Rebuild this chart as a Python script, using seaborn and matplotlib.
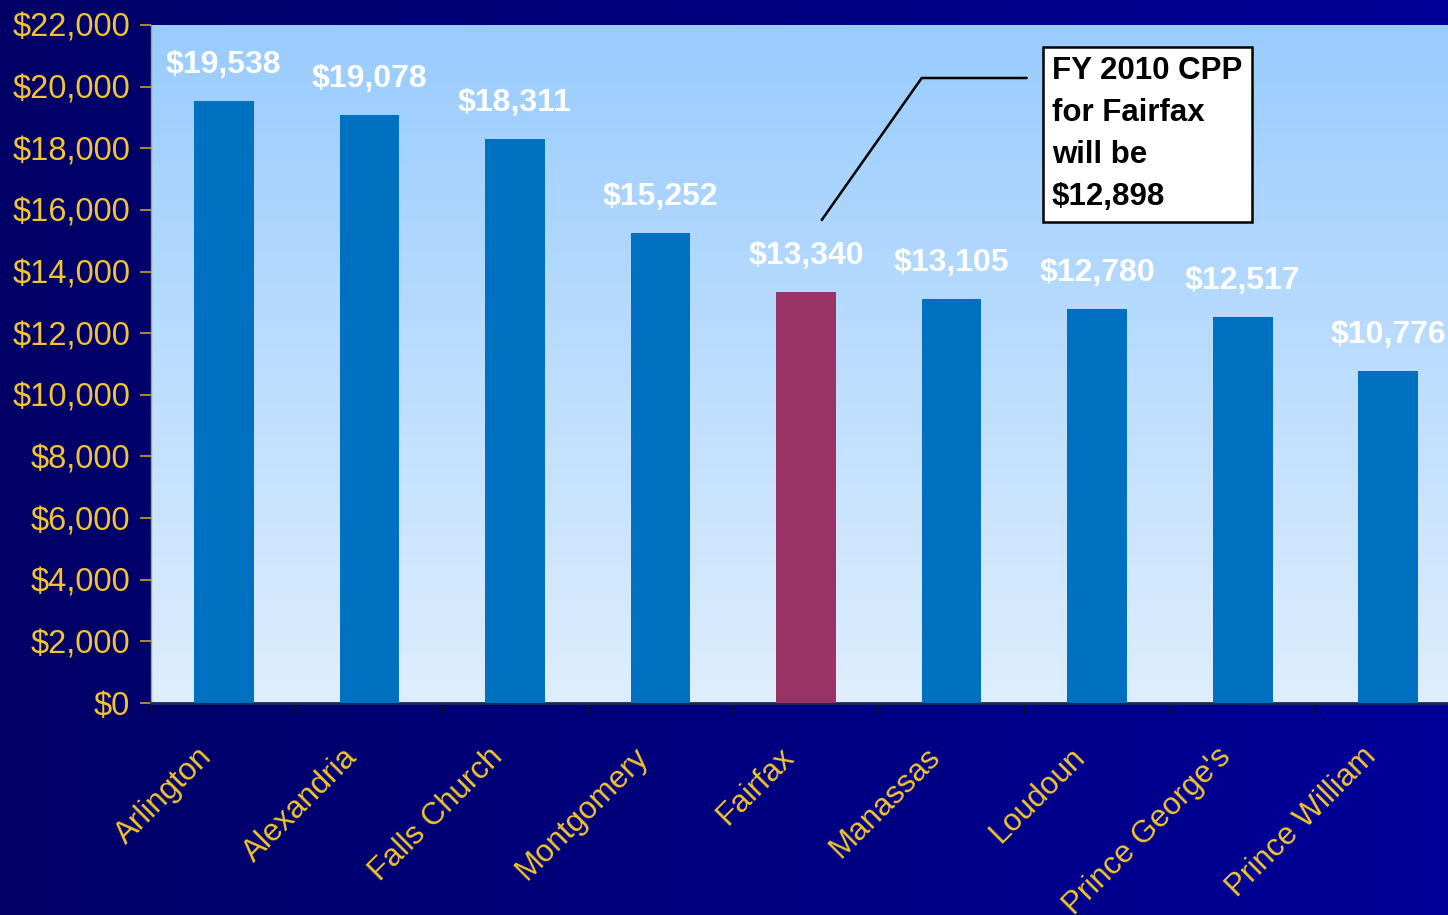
import numpy as np
import pandas as pd
import matplotlib
matplotlib.use("Agg")
import matplotlib.pyplot as plt
import matplotlib.transforms as mtransforms
import seaborn as sns
from matplotlib.colors import LinearSegmentedColormap

categories = ["Arlington", "Alexandria", "Falls Church", "Montgomery", "Fairfax",
              "Manassas", "Loudoun", "Prince George's", "Prince William"]
values = [19538, 19078, 18311, 15252, 13340, 13105, 12780, 12517, 10776]
bar_colors = ["#0070C0"] * 4 + ["#993366"] + ["#0070C0"] * 4
y_ticks = list(range(0, 22001, 2000))
y_tick_labels = ["${:,}".format(v) for v in y_ticks]
callout_text = "FY 2010 CPP\nfor Fairfax\nwill be\n$12,898"

sns.set_theme(style="white")
plt.rcParams['font.family'] = ['Liberation Sans', 'DejaVu Sans']

fig = plt.figure(figsize=(14.48, 9.15), dpi=100)

# figure background gradient (navy)
bg = fig.add_axes([0, 0, 1, 1], zorder=-10)
bg_cmap = LinearSegmentedColormap.from_list("bg", ["#000066", "#000099"])
bg.imshow(np.linspace(0, 1, 256).reshape(1, -1), aspect="auto", cmap=bg_cmap,
          extent=[0, 1, 0, 1])
bg.set_axis_off()

ax = fig.add_axes([0.1043, 0.2317, 0.9047, 0.7410])
ax.patch.set_alpha(0)

df = pd.DataFrame({"cat": categories, "val": values})
sns.barplot(data=df, x="cat", y="val", hue="cat", palette=bar_colors,
            legend=False, width=0.41, ax=ax, zorder=3, saturation=1, linewidth=0)

# plot area gradient
pa_cmap = LinearSegmentedColormap.from_list("pa", ["#DEEEFD", "#99CCFF"])
ax.imshow(np.linspace(0, 1, 256).reshape(-1, 1), aspect="auto", cmap=pa_cmap,
          extent=[0, 1, 0, 1], origin="lower", transform=ax.transAxes, zorder=0)

ax.set_xlim(-0.5, len(categories) - 0.5)
ax.set_ylim(0, 22000)
ax.set_yticks(y_ticks)
ax.set_yticklabels(y_tick_labels, color="#F2C530", fontsize=23.5)
ax.set_xlabel("")
ax.set_ylabel("")

ax.set_xticks(range(len(categories)))
ax.set_xticklabels(categories, rotation=45, ha="right", rotation_mode="anchor",
                   color="#F2C530", fontsize=22.5)
ax.tick_params(axis="x", which="major", length=0, pad=28)
shift = mtransforms.ScaledTranslation(-27 / 100, 0, fig.dpi_scale_trans)
for lbl in ax.get_xticklabels():
    lbl.set_transform(lbl.get_transform() + shift)
ax.set_xticks(np.arange(-0.5, len(categories) - 0.5 + 1e-9, 1), minor=True)
ax.tick_params(axis="x", which="minor", length=8, width=1.2, color="#111111",
               direction="out", bottom=True)
ax.tick_params(axis="y", which="major", length=8, width=1.2, color="#C8A030",
               direction="out", left=True, pad=7)

for s in ["top", "right"]:
    ax.spines[s].set_visible(False)
ax.spines["left"].set_color("#9AA86A")
ax.spines["left"].set_linewidth(1.0)
ax.spines["bottom"].set_color("#1A2A55")
ax.spines["bottom"].set_linewidth(2.0)

for i, v in enumerate(values):
    ax.annotate("${:,}".format(v), (i, v), xytext=(0, 15), textcoords="offset points",
                ha="center", va="bottom", color="white", fontsize=23,
                fontweight="bold", zorder=5)

# callout
ax.plot([4.108, 4.795, 5.516], [15673, 20280, 20280], color="black", lw=1.8, zorder=5)
ax.text(5.69, 20980, callout_text, ha="left", va="top", fontsize=22.5,
        fontweight="bold", color="black", linespacing=1.52, zorder=6,
        bbox=dict(boxstyle="square,pad=0.3", facecolor="white",
                  edgecolor="black", linewidth=1.8))

fig.savefig("out.png", dpi=100)
